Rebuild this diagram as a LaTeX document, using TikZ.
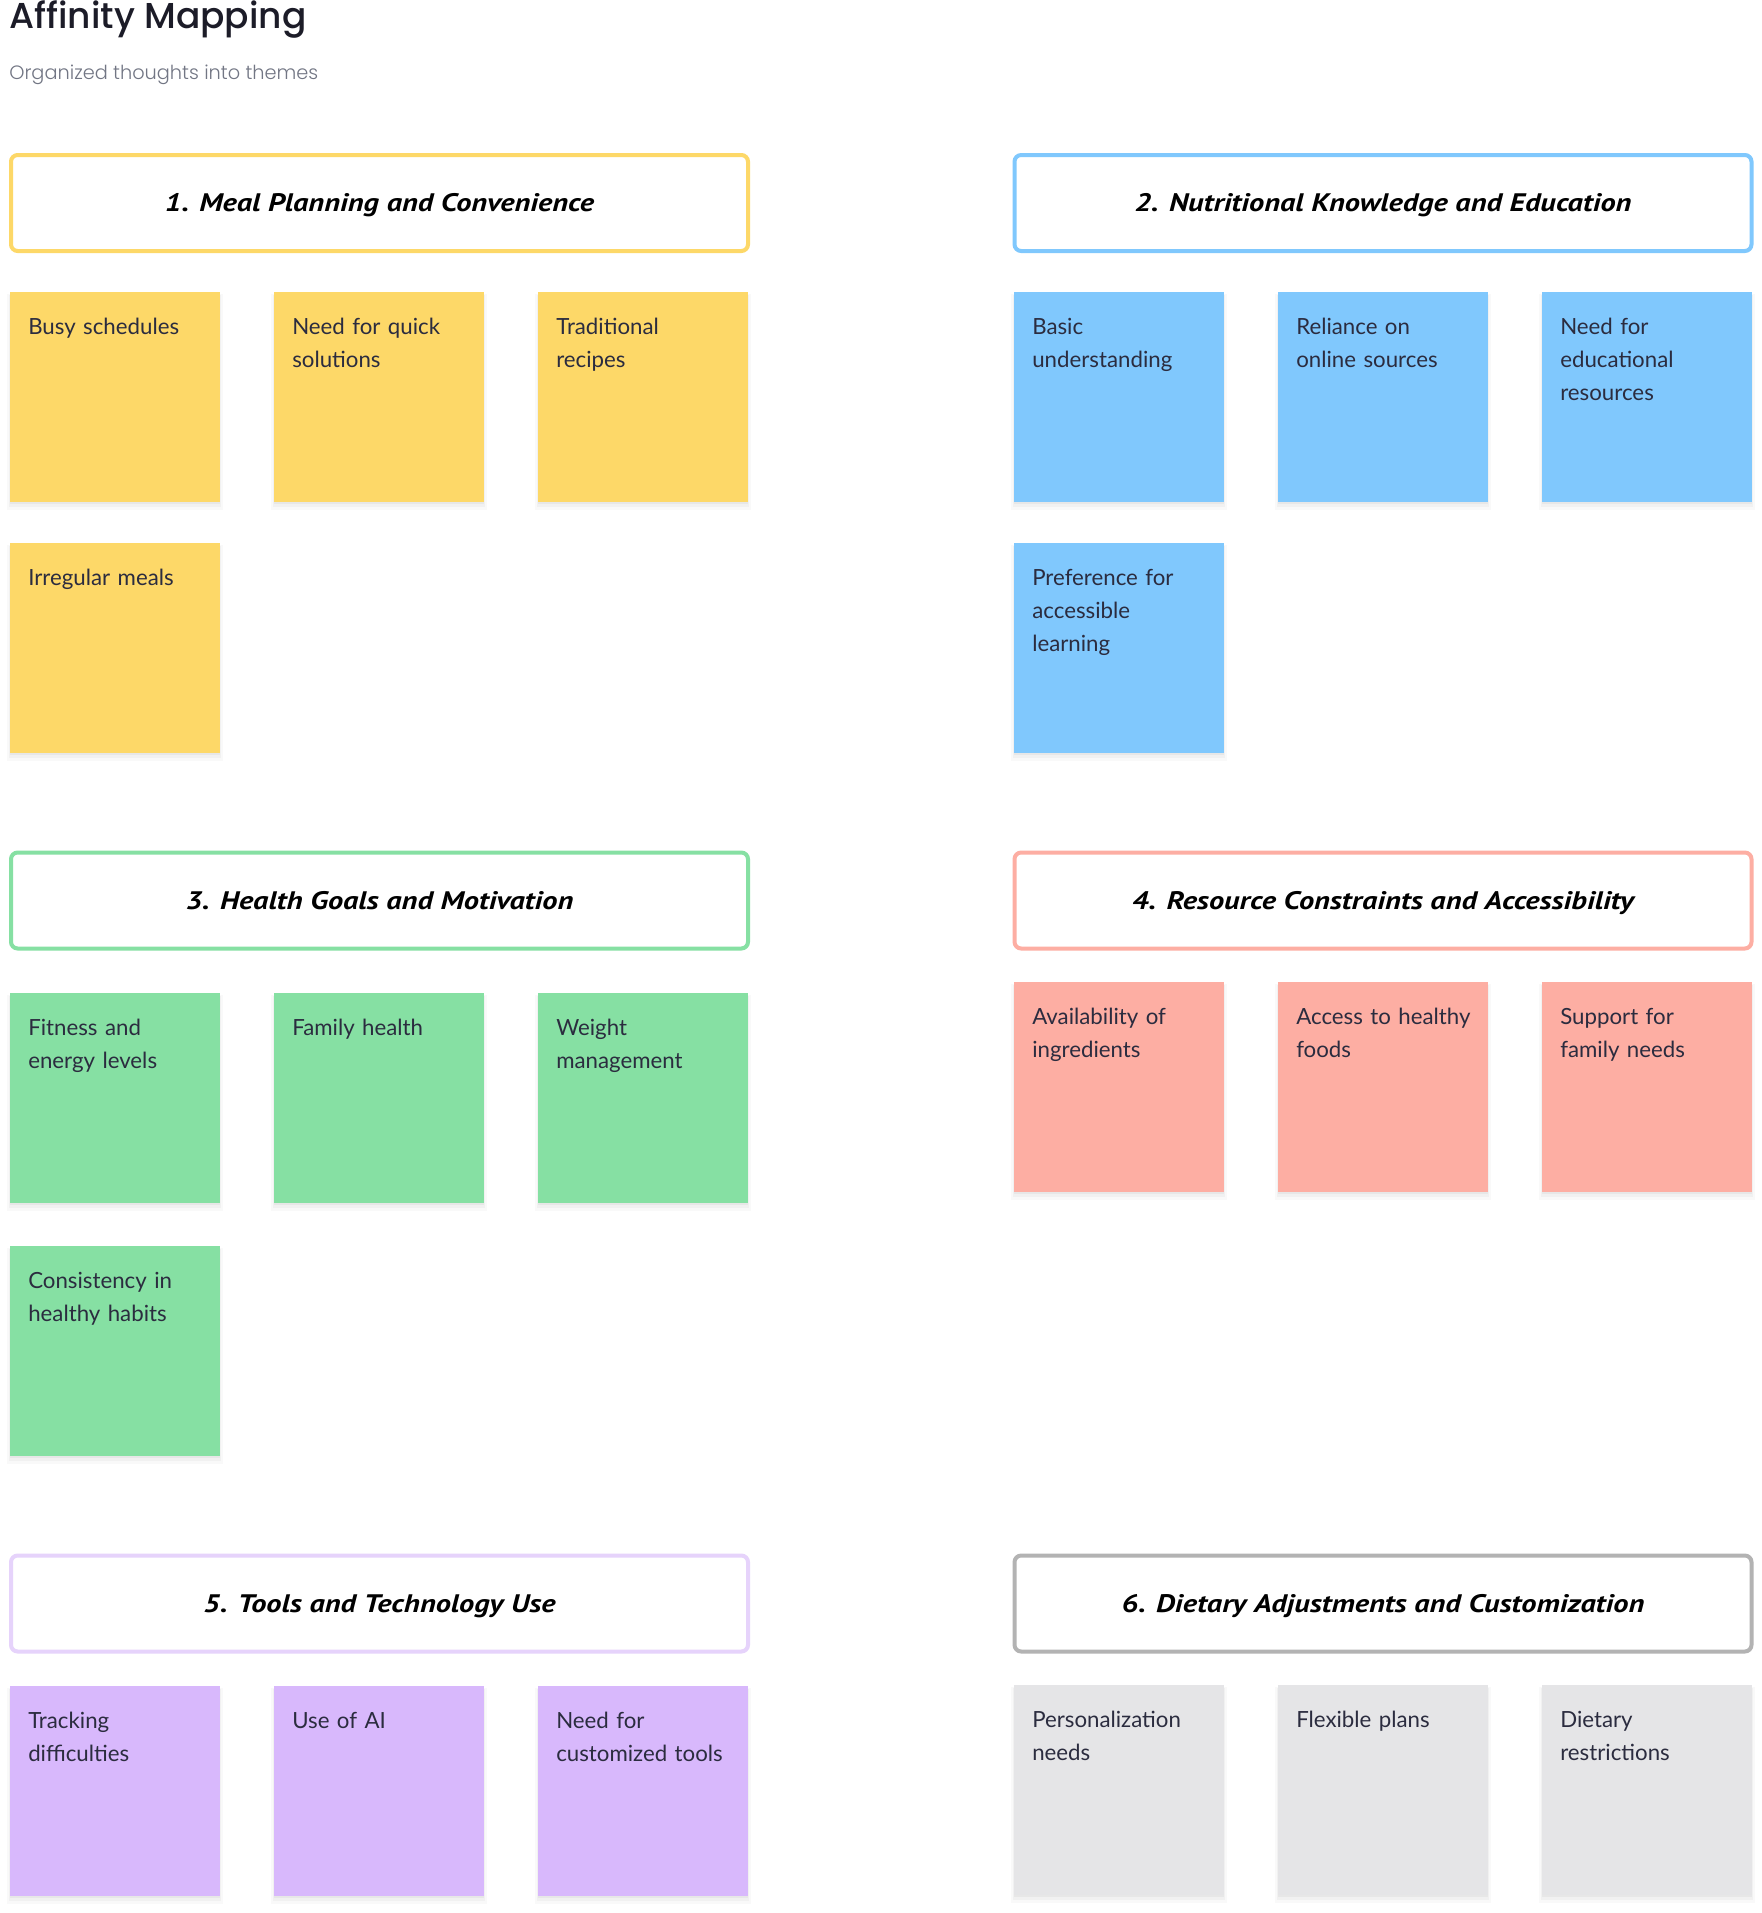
\documentclass[tikz,border=0pt]{standalone}
\usepackage{fontspec}
\setmainfont{Lato}
\newfontfamily\titlefont{Poppins Medium}
\newfontfamily\subfont{Poppins Light}
\newfontfamily\handfont{PT Sans}
\definecolor{yel}{HTML}{FDD868}
\definecolor{blu}{HTML}{80C8FD}
\definecolor{grn}{HTML}{86E0A3}
\definecolor{sal}{HTML}{FDAEA3}
\definecolor{pur}{HTML}{D8B8FC}
\definecolor{purline}{HTML}{E6D3FB}
\definecolor{gry}{HTML}{E5E5E7}
\definecolor{gryline}{HTML}{B3B3B3}
\definecolor{ink}{HTML}{2B2C3F}
\definecolor{titleink}{HTML}{1C1C28}
\definecolor{subink}{HTML}{727684}
\newcommand\handtxt[1]{\scalebox{1.2}[1]{#1}}
\tikzset{
  stickybox/.style={rectangle, inner sep=0pt, minimum width=157.5pt, minimum height=157.5pt, draw=none},
  stickytext/.style={anchor=base west, inner sep=0pt, text width=142.5pt, align=left, text=ink, font=\fontsize{16.7pt}{24.75pt}\selectfont},
  headbox/.style={rectangle, rounded corners=5pt, line width=3pt, fill=white, inner sep=0pt, minimum width=552.75pt, minimum height=72pt},
  headtext/.style={anchor=base, inner sep=0pt, text=black, font=\handfont\bfseries\itshape\fontsize{19pt}{21pt}\selectfont},
}
\newcommand\mksticky[5]{%
  \fill[black,opacity=.025] ({#2-3},{#3+2}) rectangle ({#2+213},{#3+218});
  \fill[black,opacity=.03] ({#2-1},{#3+3}) rectangle ({#2+211},{#3+215});
  \fill[black,opacity=.04] ({#2},{#3+3}) rectangle ({#2+210},{#3+212});
  \node[stickybox, fill=#4] (#1) at ({#2+105},{#3+105}) {};
  \node[stickytext] (#1t) at ({#2+18},{#3+42}) {#5};
}
\begin{document}
\begin{tikzpicture}[x=0.75pt, y=-0.75pt]
\useasboundingbox (0,0) rectangle (1762,1913);
\fill[white] (0,0) rectangle (1762,1913);

\node[anchor=base west, inner sep=0pt, text=titleink, font=\titlefont\fontsize{27pt}{30pt}\selectfont] (title) at (9,28) {Affinity Mapping};
\node[anchor=base west, inner sep=0pt, text=subink, font=\subfont\fontsize{14.5pt}{18pt}\selectfont] (subtitle) at (9,79) {Organized thoughts into themes};

% Group 1
\node[headbox, draw=yel] (h1) at (379.5,203) {};
\node[headtext] (h1t) at (379.5,211) {\handtxt{1. Meal Planning and Convenience}};
\mksticky{a1}{10}{292}{yel}{Busy schedules}
\mksticky{a2}{274}{292}{yel}{Need for quick\\solutions}
\mksticky{a3}{538}{292}{yel}{Traditional\\recipes}
\mksticky{a4}{10}{543}{yel}{Irregular meals}

% Group 2
\node[headbox, draw=blu] (h2) at (1383,203) {};
\node[headtext] (h2t) at (1383,211) {\handtxt{2. Nutritional Knowledge and Education}};
\mksticky{b1}{1014}{292}{blu}{Basic\\understanding}
\mksticky{b2}{1278}{292}{blu}{Reliance on\\online sources}
\mksticky{b3}{1542}{292}{blu}{Need for\\educational\\resources}
\mksticky{b4}{1014}{543}{blu}{Preference for\\accessible\\learning}

% Group 3
\node[headbox, draw=grn] (h3) at (379.5,900.5) {};
\node[headtext] (h3t) at (379.5,909) {\handtxt{3. Health Goals and Motivation}};
\mksticky{c1}{10}{993}{grn}{Fitness and\\energy levels}
\mksticky{c2}{274}{993}{grn}{Family health}
\mksticky{c3}{538}{993}{grn}{Weight\\management}
\mksticky{c4}{10}{1246}{grn}{Consistency in\\healthy habits}

% Group 4
\node[headbox, draw=sal] (h4) at (1383,900.5) {};
\node[headtext] (h4t) at (1383,909) {\handtxt{4. Resource Constraints and Accessibility}};
\mksticky{d1}{1014}{982}{sal}{Availability of\\ingredients}
\mksticky{d2}{1278}{982}{sal}{Access to healthy\\foods}
\mksticky{d3}{1542}{982}{sal}{Support for\\family needs}

% Group 5
\node[headbox, draw=purline] (h5) at (379.5,1603.5) {};
\node[headtext] (h5t) at (379.5,1612) {\handtxt{5. Tools and Technology Use}};
\mksticky{e1}{10}{1686}{pur}{Tracking\\difficulties}
\mksticky{e2}{274}{1686}{pur}{Use of AI}
\mksticky{e3}{538}{1686}{pur}{Need for\\customized tools}

% Group 6
\node[headbox, draw=gryline] (h6) at (1383,1603.5) {};
\node[headtext] (h6t) at (1383,1612) {\handtxt{6. Dietary Adjustments and Customization}};
\mksticky{f1}{1014}{1685}{gry}{Personalization\\needs}
\mksticky{f2}{1278}{1685}{gry}{Flexible plans}
\mksticky{f3}{1542}{1685}{gry}{Dietary\\restrictions}
\end{tikzpicture}
\end{document}
